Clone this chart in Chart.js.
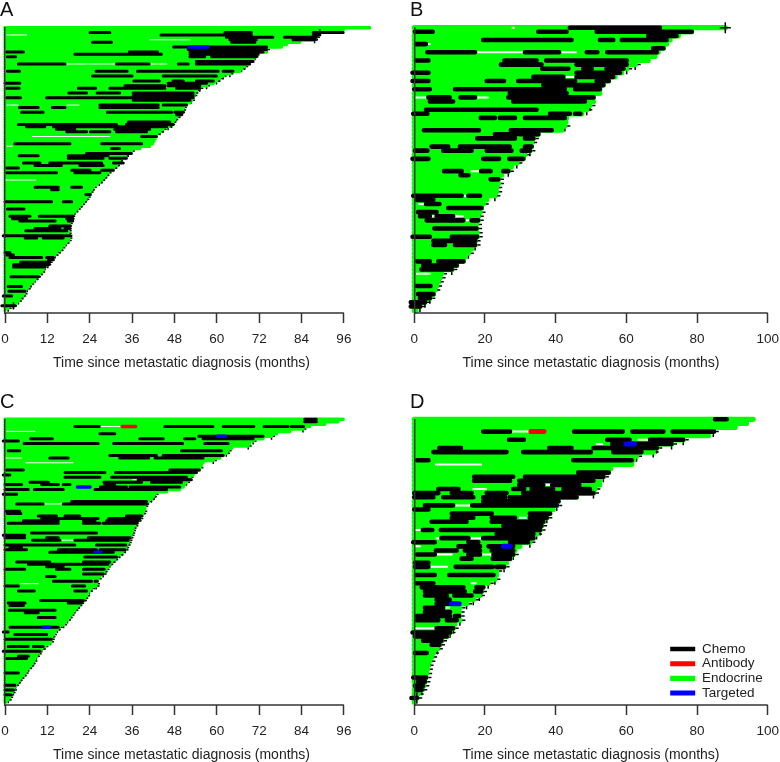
<!DOCTYPE html>
<html>
<head>
<meta charset="utf-8">
<script src="https://cdn.jsdelivr.net/npm/chart.js@4"></script>
<style>
html, body { margin: 0; padding: 0; background: #fff; overflow: hidden; }
canvas { position: absolute; }
</style>
</head>
<body>
<canvas id="plotA" width="398" height="374" style="left:-8px;top:-2px"></canvas>
<canvas id="plotB" width="390" height="374" style="left:402px;top:-2px"></canvas>
<canvas id="plotC" width="398" height="374" style="left:-8px;top:390px"></canvas>
<canvas id="plotD" width="390" height="374" style="left:402px;top:390px"></canvas>
<script>
const axis_title = 'Time since metastatic diagnosis (months)';
const ticks_96 = [0, 12, 24, 36, 48, 60, 72, 84, 96];
const ticks_100 = [0, 20, 40, 60, 80, 100];
const categories = ['Chemo', 'Antibody', 'Endocrine', 'Targeted'];

// every row is one patient, top row = 0, ends in months
const ends_a = [103.3,95.8,89.2,88.2,88.2,87.7,83.5,79.7,78.3,74.1,74.1,71.7,70.8,70.3,69.3,68.9,67.9,67,66.5,63.7,61.8,60.8,59.9,59,57.1,55.2,54.2,53.8,53.5,53.3,52.8,52.4,51.4,50.5,50.3,50,49.5,48.6,48.1,47.6,47.2,46.2,44.8,43.9,42.9,42.7,42.5,42.2,41.8,41,38.2,35.8,34.9,34,33,32.4,32.1,31.6,30.7,29.7,29.2,28.6,28,27.4,26.7,25.9,25,24.5,
  24.1,23.6,23.3,22.9,22.2,21.7,21,20.5,19.8,19.2,18.9,18.7,18.4,18.2,18,17.9,17.9,17.9,18.1,18.1,17.9,17.3,16.7,16.1,15.6,14.6,14.2,13.5,12.7,12.5,12.1,11.3,10.8,10.4,9.7,9.2,8.5,8,7.3,6.6,6.3,5.7,5.4,5,4.2,3.8,3.3,2.4,0.9,0.2];
// [row, start, end]
const chemo_a = [[2,24.1,29.7],[2,87.3,95.8],[3,44.2,62.3],[2,62.3,69.8],[3,62.3,69.8],[4,62.7,71.2],[5,63.7,71.2],[6,64.2,70.8],[4,79.2,88.2],[5,81.6,87.7],[3,87.3,89.2],[4,71.2,75.9],[6,24.8,30.2],[8,47.8,74.1],[9,51.9,74.1],[10,.5,5.2],[10,35.2,43.2],[10,52.4,73.1],[11,52.4,71.7],[11,19.8,44.3],[12,52.4,56.6],[12,58.5,71.2],[12,.7,3],[14,54.2,70.3],[15,3.8,17],[15,31.6,40.8],[15,49.1,51.9],[15,54.2,69.3],[18,.7,4.1],[18,25.8,34.6],[18,37.5,60.4],[18,61.8,64.6],[20,24.8,36],[20,44.8,59.9],[22,36.5,43.7],[22,47.6,50.5],[22,54.2,59],[23,0,4.2],[23,46.2,57.1],[24,34,45.3],[24,46.2,55.2],[25,.5,4],[25,20.8,25.7],[25,29.7,45.3],[25,48.6,55.2],[27,18.1,23.1],[27,26.1,32.5],[27,36.3,53.3],[28,36.3,53.3],[29,.5,4.4],[29,11.8,53.3],[30,36.3,52.4],[32,26.9,43.4],[32,44.8,51.4],[33,4.1,9.4],[33,13.4,17],[33,26.9,43.4],[35,4.7,10.8],[35,29,47.2],[35,48.1,50.5],[36,48.6,50],[39,34.9,46.7],[40,3.8,31.6],[40,34.4,47.6],[41,6.1,11.3],[41,13.7,30.7],[41,31.1,45.8],[42,14.6,19.8],[42,31.1,41],[43,17.5,23.1],[43,24.2,29.7],[43,31.6,40.1],[45,38.7,42.9],[48,2.8,18.4],[48,27.4,38.7],[50,30.2,32.4],[52,23.1,35.8],[53,4,9.4],[53,17.9,29.2],[54,17.9,27.8],[54,29.7,34.4],[56,5.2,9.9],[56,12.7,27.4],[56,30.7,33.5],[57,8.5,16],[57,21.2,27.8],[58,.5,3.8],[59,18.9,24.1],[59,27.4,30.7],[60,.5,14.6],[60,19.8,26.9],[66,8.5,15.1],[66,18.9,21.7],[67,13.2,15.1],[69,22.9,24.2],[72,0,13.2],[72,16.5,18.9],[75,.7,5.4],[78,1.4,7.1],[78,9.7,19.3],[79,2.1,6.1],[79,17.5,19.2],[80,4.2,14.2],[80,17.9,19.2],[82,12.7,18.4],[83,8.5,15.6],[83,17,18.4],[84,5.9,17.5],[86,-.5,16.5],[86,17,18.6],[87,5.7,9],[87,10.8,16.5],[93,0,1.4],[94,.5,2.4],[95,1.4,10.4],[95,11.8,13.7],[96,12.3,13.7],[97,4.4,12.7],[98,2.4,12.3],[99,2.4,11.3],[103,1.7,9.4],[107,.9,4.7],[109,1.1,5.7],[111,-.5,1.9],[115,-.9,2.8]];
const targeted_a = [[8,52.1,57.5]];
const antibody_a = [];
const gaps_a = [[3,.5,6.1],[5,41,52.4],[15,17,31.6],[15,40.8,45.8],[32,.5,3.8],[32,17.5,21],[45,7.7,29.7],[24,41,45],[63,0,8.7],[49,.5,2]];
const censored_a = [2,3,4,5,9,12,14,16,17,19,20,21,22,24,25,26,27,28,30,33,34,35,36,37,38,39,40,41,42,43,44,51,52,53,54,55,56,57,58,60,61,62,63,64,66,67,68,70,71,72,73,74,75,76,78,79,80,81,82,83,84,85,86,87,88,89,91,92,93,94,96,97,98,99,101,102,103,104,106,107,108,110,111,112,113,115,116];
const marked_a = [2,115];

const ends_b = [88,78.5,74.7,72.4,71.4,70.5,69,68.1,66.2,62.5,60.1,58.7,56.8,55,53.5,52.5,52.5,50.7,50.7,49.7,48.8,47.4,43.1,42.9,42.6,41.7,35.1,33.7,33.2,33.2,32.7,31.3,30.8,29,27.5,26.6,24.7,23.8,23.8,23.3,23.3,22.8,20.5,19.5,19,18.6,18.1,18.1,17.6,17.6,17.8,17.8,17.2,17.2,16.2,15.3,14.3,13.9,12,10.6,7.7,7.3,6.8,6.3,5.8,5.4,4.4,3,1.6,.5];
const chemo_b = [[0,44,69.5],[1,.2,5.2],[1,35.1,43.1],[1,51.6,78.5],[2,66.2,74.2],[3,19.5,44.5],[3,52.5,56.3],[3,58.7,66.2],[3,66.2,71.4],[4,.5,3.3],[5,67.6,70.5],[6,3.7,17.2],[6,31.3,41],[6,48.8,51.8],[6,54.6,68.6],[8,.5,4],[8,25.5,34.6],[8,37.3,60.1],[9,24.5,36],[9,45.9,60.1],[10,36.2,43.6],[10,47.8,50.2],[10,54.4,59.2],[11,-.5,4],[11,45.9,58.2],[12,33.7,42.2],[12,45.9,56.3],[13,-.5,4],[13,20.5,25.4],[13,29.4,45.5],[13,51.6,55],[14,36.5,45],[14,45,53.5],[15,0,4.4],[15,11.5,42.6],[15,45.5,52.5],[16,27,43.1],[17,4,10],[17,13.1,17.2],[17,26.6,50.7],[18,4.4,11],[18,28,48.3],[20,3.3,34.6],[21,-.3,3.7],[21,38.4,44],[21,45.5,47],[22,18.8,22.8],[22,24.2,28.5],[22,31.3,42.6],[25,2.7,18.3],[25,27.3,38.9],[26,22.8,29],[26,29.9,35.1],[27,17.8,28.5],[27,31.3,33.7],[29,4.9,9.6],[29,12.9,27],[29,31.3,33.2],[30,.2,3.7],[30,8.2,16.2],[30,20.5,27.5],[30,30.4,32.7],[32,-.5,4],[32,19.5,24],[32,26.9,30.8],[35,8.4,13.4],[35,18.9,21.6],[35,25.2,26.6],[36,13.1,15.3],[37,21.6,23.8],[41,-.3,13.4],[41,15.3,18.6],[42,.7,5.4],[43,3.3,7.1],[44,9.6,19],[45,1.1,6.3],[46,1.6,4.4],[46,6.3,11],[47,3.5,13.9],[47,16.2,18.1],[49,5.7,17.6],[51,-.5,4.4],[51,10.6,17.8],[52,5.4,10.6],[52,10.6,17.2],[53,5.4,8.7],[53,11.5,17.2],[57,.8,4.4],[57,6.8,11.5],[57,12,13.9],[58,2.5,12],[59,2,10.6],[63,.7,4.6],[65,1.1,5.4],[66,1.6,4.4],[67,-1,3],[68,-1,1.6]];
const targeted_b = [];
const antibody_b = [];
const gaps_b = [[0,27.8,28.2],[6,17.2,31.3],[6,41,45.7],[12,42.2,45.9],[17,.2,4],[17,17.5,20.8],[4,3.5,4.4],[35,16.2,18.9],[41,13.6,15.3],[43,1.4,2.7],[46,4.4,6.3],[46,11.3,13.7],[47,14.3,16.2],[60,.7,4.4]];
const censored_b = [9,10,19,20,24,27,28,30,31,33,35,37,38,39,40,41,43,45,46,47,48,49,50,51,52,53,55,59,60,61,62,63,64,66];
const marked_b = [0,67,68];

const ends_c = [95.8,94.3,90.6,86.3,84.4,80.7,76.9,75.5,73.1,70.3,69.3,68.9,64.2,63.2,62.7,61.8,60.8,59,56.1,55.7,55.2,54.9,54.2,53.3,52.4,51.9,51.4,50.9,50.5,49.5,45.8,42.5,42,41.5,40.6,40.1,39.6,39.6,39.3,39,38.7,38.2,37.7,37.3,36.8,36.3,36.1,35.9,35.7,35.4,35.1,34.9,34.6,34.2,34,33.3,32.5,31.6,31.1,30.2,29.7,29.2,28.6,28.1,27.8,
  26.9,26.4,26.1,25.9,25.8,24.5,23.9,23.5,23.1,22.6,22.2,21.7,20.9,20.3,19.8,19.2,18.7,18.2,17.7,17.2,16.6,15.4,14.8,14.2,13.7,13.3,13.1,12.9,12.5,11.3,10.4,9.9,9.4,8.9,8.5,8.2,7.7,7.3,6.7,6.1,5.7,5.2,4.5,4,3.5,3,2.6,2.4,2,1.6,1.3,.9,.3];
const chemo_c = [[0,84.9,88.2],[1,84.9,88.2],[3,19.8,26.7],[3,45.3,58.9],[3,61.8,70.5],[3,73.4,80.2],[3,81.1,84.6],[6,26.9,31.1],[7,54.9,73.1],[8,50.9,53.8],[8,56.1,70.3],[8,7.3,13.4],[8,38.2,44.8],[9,-.5,3.8],[10,5.4,26.4],[10,30.8,50.3],[10,56.6,63.2],[13,.9,4.2],[13,50,61.3],[15,29.7,42.9],[15,44.8,61.8],[16,32.5,40.7],[16,12.7,17.9],[16,42.5,56.1],[21,46.7,55],[21,.5,5.2],[22,17,28.3],[22,31.3,40.1],[22,40.1,54.2],[23,-.5,1.4],[24,17,26.9],[24,30.2,40.1],[24,40.1,51.4],[25,37.7,52.8],[26,7.1,12.3],[26,28,38.7],[26,41.5,50],[27,0,4.7],[27,10.4,15.1],[27,16.5,18.4],[27,28.3,31.1],[28,27,34.4],[28,35.4,49.5],[29,0,6.6],[29,8.3,16.5],[29,25.5,45.8],[31,-.5,3.3],[34,18.9,40.1],[35,3.3,10.8],[35,16.5,40.1],[38,.3,4.2],[39,.7,4.5],[40,9.4,14.6],[40,17,21.2],[40,34.4,38.7],[41,10.4,26.4],[41,29.4,38.2],[42,5.2,15.1],[42,22.2,25.5],[42,28.8,37.7],[43,.9,15.1],[43,22.2,26.9],[43,27.8,37.3],[47,7.5,25.9],[48,-.5,5.6],[49,11.8,15.1],[49,23.6,35.4],[49,0,5.6],[50,7.8,15.6],[50,19.8,34.9],[52,0,19.8],[52,25.9,34.2],[53,1.4,4.7],[54,15.1,25.9],[54,0,6.1],[54,26.9,34],[55,12.7,30.7],[57,22.6,31.6],[59,3.3,12.7],[59,22.2,29.7],[60,6.6,21.2],[60,21.7,29.2],[61,11.8,16.5],[62,0,5.6],[62,14.6,18.4],[62,22.2,28.1],[64,22.2,27.8],[65,11.8,14.2],[67,13.7,24.5],[67,25.5,26.1],[69,19.1,22.6],[69,0,3.8],[71,3.8,8.3],[71,19.8,23.1],[75,10.1,22.2],[76,.9,5.7],[76,17.9,21.7],[77,1.4,5.2],[79,1.2,14.2],[80,5.7,9.4],[82,9.4,14.2],[86,1.4,15.1],[88,-.5,.9],[89,2.8,11.8],[91,3.3,13.1],[91,0,3.3],[94,.9,6.6],[94,8,10.8],[96,-.5,9.9],[98,3.8,6.6],[99,.5,6.1],[105,0,3.8],[110,0,2.8],[112,0,2.4],[114,0,1.6]];
const targeted_c = [[7,60.2,62.5],[28,20.5,24.1],[55,25.5,27.2],[86,10.8,12.7]];
const antibody_c = [[3,33.2,37]];
const gaps_c = [[5,.5,8.5],[3,26.9,32.9],[18,5.9,19.2],[16,0,4.7],[35,10.8,16.5],[25,36,38.7],[50,15.6,19.8],[68,4.3,9.4]];
const censored_c = [4,7,9,11,13,14,17,20,24,26,31,32,33,34,36,38,39,41,42,44,45,46,47,48,49,50,51,52,53,54,55,56,57,58,59,60,62,63,64,66,68,69,70,71,73,74,75,77,78,79,81,82,83,85,86,87,89,90,91,92,94,95,97,98,100,101,102,103,105,106,107,108,109,110,112,113,114,115,116];
const marked_c = [];

const ends_d = [95.9,94,90.8,84.6,83.2,76.1,72.8,68.6,67.6,62.9,62,61.5,55.6,55,53.5,52.5,52.5,51.1,50.7,45.9,40.8,40.3,39.3,38.4,37.5,36.5,36,35.6,34.6,33.7,32.7,29.9,28.5,28,27.1,26.1,25.4,23.3,23.3,22.8,20.9,19.5,19,18.4,16.7,14.8,12.9,12.7,12.7,12.9,11.5,11,10.1,9.2,7.7,7.1,6.5,5.4,4.9,4.4,3.9,3.7,3.5,3.3,3,2.7,2.1,1.1,.7,.2];
const chemo_d = [[0,85.1,88.4],[3,19.5,27.1],[3,45.2,59],[3,61.7,70.5],[3,73.1,80.4],[3,80.8,84.8],[5,26.8,31],[5,54.6,60.9],[5,66.7,76.1],[6,56,72.8],[7,7.1,13.2],[7,38.2,44.5],[7,50.7,56.3],[7,56.3,68.6],[8,5.4,26.1],[8,30.8,50],[8,56.3,64.3],[10,.8,4],[10,45,61.5],[13,46.4,55],[14,16.9,28],[14,31.3,46.9],[14,46.9,53.5],[15,16.9,27.1],[15,29.7,50.7],[16,29.7,36.5],[16,39,44.5],[16,44.5,46.7],[17,6.8,12.5],[17,28,31.1],[17,33.2,39.3],[17,42.2,49.7],[18,0,6.8],[18,10.6,16.2],[18,20.5,26.1],[18,30.8,40.3],[18,40.8,50.7],[19,0,5.4],[19,8.2,16.7],[19,19.5,25.7],[19,27,45.9],[20,19.5,40.8],[21,3,11],[21,16.4,40.3],[22,0,4],[23,10.6,16.7],[23,17.2,21.9],[23,32.7,38.4],[24,10.6,16.7],[24,21.9,28.5],[24,32.7,37.5],[25,4.9,14.8],[25,21.9,28],[25,29,36.5],[26,25.2,36],[27,2.4,5.1],[27,7.5,25.2],[27,26.1,35.6],[28,23.3,33.7],[29,7.7,15.3],[29,19.5,25.7],[29,26.1,33.7],[30,-.3,5.8],[30,15.3,18.1],[30,27.1,32.2],[31,12.5,18.6],[31,21,28],[32,6.1,12],[32,14.3,18.6],[32,21.9,28],[33,.8,5.8],[33,15.3,18.6],[33,22.4,28],[34,13.4,16.2],[34,22.2,27.1],[35,.2,4],[36,.2,4],[36,11.7,22.2],[36,23.3,25.4],[38,.5,5.8],[38,9.9,22.4],[40,.5,5.4],[41,2.1,13.9],[41,17.6,19.5],[42,3,14.3],[42,17.2,19],[43,3,9.2],[43,11.3,16.2],[44,6.3,10],[45,6.3,10.5],[46,3,8.2],[47,3,10.1],[48,.7,10.1],[48,11.5,12.7],[49,.7,6.8],[49,9.2,12],[51,6.3,11],[52,-.5,10.1],[53,.2,3.5],[53,3.9,9.2],[54,2.5,7.7],[55,4.9,7.1],[57,.2,3.5],[63,-.3,3.3],[64,1.1,3],[65,.2,2.5],[66,.7,2.1],[68,-.8,.7]];
const targeted_d = [[6,59.9,62.3],[31,25.2,27.1],[45,10.5,12.7]];
const antibody_d = [[3,33,36.7]];
const gaps_d = [[3,27.1,32.9],[5,63.4,66.7],[6,51.6,53.2],[11,6.1,18.9],[16,36.2,38.9],[17,16.7,20.3],[21,11.2,16.2],[24,29.9,31.6],[27,.2,2.1],[29,6.3,7.5],[29,16.2,19.5],[31,.2,1.6],[33,5.8,10.6],[33,16.7,21.9],[36,4.2,9.3],[40,16.2,17.4],[46,8.2,9.9],[51,.2,6.3]];
const censored_d = [3,5,6,7,8,9,14,17,18,21,24,26,27,28,30,33,36,37,39,40,42,43,44,45,46,47,48,49,51,52,54,55,56,57,58,59,60,61,62,63,64,65,66,67];
const marked_d = [68];

Chart.defaults.font.family = '"Liberation Sans", Arial, sans-serif';
Chart.defaults.color = '#222';

function to_points(rows) {
    const pts = [];
    rows.forEach(r => {
        pts.push({x: r[1], y: r[0]}, {x: r[2], y: r[0]}, {x: NaN, y: NaN});
    });
    return pts;
}

function line_set(label, rows, color, width, order) {
    return {
        label: label, data: to_points(rows), borderColor: color, backgroundColor: color,
        borderWidth: width, borderCapStyle: 'round', pointRadius: 0, clip: false, order: order
    };
}

function cross_set(rows, p, order) {
    return {
        label: '', data: rows.map(r => ({x: p.ends[r], y: r})), showLine: false,
        pointStyle: 'cross', pointRadius: p.cross, pointBorderWidth: 1.5,
        pointBorderColor: '#000', clip: false, order: order
    };
}

function draw_panel(p) {
    const endocrine = p.ends.map((e, i) => [i, 0, e]);
    const datasets = [
        line_set(categories[0], p.chemo, '#000000', p.black_w, 3),
        line_set(categories[1], p.antibody, '#ff0000', p.black_w + .4, 2),
        line_set(categories[2], endocrine, '#00ff00', p.green_w, 6),
        line_set(categories[3], p.targeted, '#0000ff', p.black_w + .4, 1),
        line_set('', p.gaps, '#ffffff', p.gap_w, 5),
        cross_set(p.censored, p, 7),
        cross_set(p.marked, p, 0),
        {
            label: '', data: [{x: p.ticks[0], y: p.row_max}, {x: p.ticks[p.ticks.length - 1], y: p.row_max}],
            borderColor: '#333', borderWidth: 1.5, pointRadius: 0, clip: false, order: 0
        }
    ];
    return new Chart(document.getElementById(p.id), {
        type: 'line',
        data: {datasets: datasets},
        plugins: p.legend ? [{
            id: 'place_legend',
            afterLayout(chart) {
                chart.legend.left = 267;
                chart.legend.top = 251;
                chart.legend.bottom = 342;
            }
        }] : [],
        options: {
            responsive: false,
            animation: false,
            events: [],
            layout: {padding: {left: 8, right: p.right}},
            scales: {
                x: {
                    type: 'linear', min: 0, max: 100,
                    afterBuildTicks(s) { s.ticks = p.ticks.map(v => ({value: v})); },
                    afterFit(s) { s.height = 59; },
                    border: {display: false},
                    grid: {drawOnChartArea: false, tickLength: 10, tickColor: '#333', tickWidth: 1.5},
                    ticks: {padding: 8, maxRotation: 0, autoSkip: false, font: {size: 13.5}, color: '#222'},
                    title: {display: true, text: axis_title, font: {size: 14}, color: '#222', padding: 0}
                },
                y: {
                    type: 'linear', reverse: true, min: 0, max: p.row_max,
                    afterFit(s) { s.width = p.axis_x; },
                    grid: {display: false},
                    ticks: {display: false},
                    border: {color: '#333', width: 1.5, z: 1}
                }
            },
            plugins: {
                tooltip: {enabled: false},
                title: {
                    display: true, text: p.letter, align: 'start', color: '#111',
                    font: {size: 20, weight: 'normal'}, padding: {top: 0, bottom: p.title_gap}
                },
                legend: {
                    display: !!p.legend, position: 'chartArea', align: 'start',
                    labels: {
                        usePointStyle: true, pointStyle: 'line', pointStyleWidth: 25, boxHeight: 10,
                        padding: 1.2, font: {size: 13.5, lineHeight: 1}, color: '#222',
                        filter: item => item.text !== '',
                        sort: (a, b) => a.datasetIndex - b.datasetIndex
                    }
                }
            }
        }
    });
}

draw_panel({id: 'plotA', letter: 'A', ends: ends_a, chemo: chemo_a, antibody: antibody_a, targeted: targeted_a, gaps: gaps_a, censored: censored_a, marked: marked_a,
    ticks: ticks_96, row_max: 118, axis_x: 5, right: 32, title_gap: 5.7, green_w: 3.5, black_w: 3, gap_w: 1, cross: 3.5});
draw_panel({id: 'plotB', letter: 'B', ends: ends_b, chemo: chemo_b, antibody: antibody_b, targeted: targeted_b, gaps: gaps_b, censored: censored_b, marked: marked_b,
    ticks: ticks_100, row_max: 69.6, axis_x: 4.3, right: 24.3, title_gap: 5.7, green_w: 5.2, black_w: 4.6, gap_w: 2, cross: 5.5});
draw_panel({id: 'plotC', letter: 'C', ends: ends_c, chemo: chemo_c, antibody: antibody_c, targeted: targeted_c, gaps: gaps_c, censored: censored_c, marked: marked_c,
    ticks: ticks_96, row_max: 118.2, axis_x: 5, right: 32, title_gap: 5.3, green_w: 3.5, black_w: 3, gap_w: 1, cross: 3.5});
draw_panel({id: 'plotD', letter: 'D', ends: ends_d, chemo: chemo_d, antibody: antibody_d, targeted: targeted_d, gaps: gaps_d, censored: censored_d, marked: marked_d,
    ticks: ticks_100, row_max: 69.7, axis_x: 4.3, right: 24.3, title_gap: 5.3, green_w: 5.2, black_w: 4.6, gap_w: 2, cross: 5.5, legend: true});
</script>
</body>
</html>
